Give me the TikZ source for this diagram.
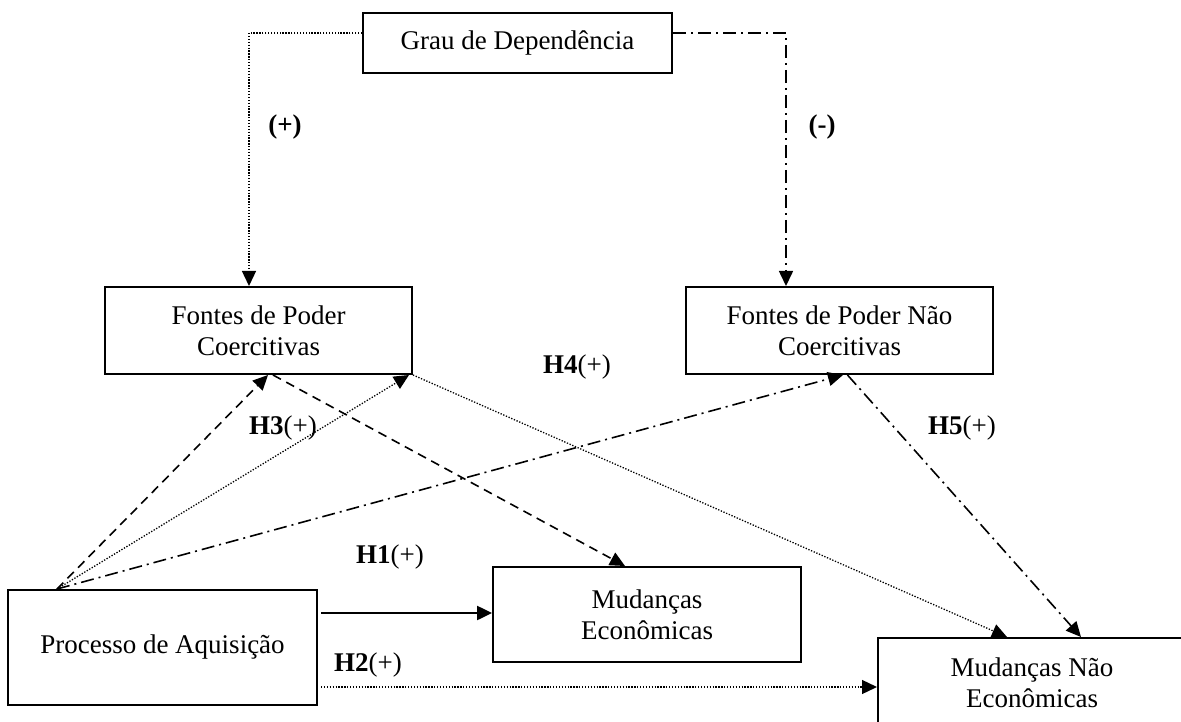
\documentclass[tikz,border=0pt]{standalone}
\usepackage{fontspec}
\setmainfont{Liberation Serif}
\usetikzlibrary{arrows.meta}
\begin{document}
\begin{tikzpicture}[x=1pt,y=-1pt,
  box/.style={draw, line width=2pt, rectangle, align=center, inner sep=0pt, font=\fontsize{27}{31}\selectfont},
  lab/.style={inner sep=1pt, font=\fontsize{27}{31}\selectfont},
  tip/.style={-{Triangle[length=15pt,width=14pt]}},
  dotl/.style={line width=1.3pt, dash pattern=on 1.3pt off 1.6pt},
  dashl/.style={line width=1.6pt, dash pattern=on 9pt off 6pt},
  dashdotl/.style={line width=1.6pt, dash pattern=on 13pt off 5pt on 2pt off 5pt},
  solidl/.style={line width=2.5pt}]
\useasboundingbox (0,0) rectangle (1181,722);
\fill[white] (0,0) rectangle (1181,722);
\begin{scope}
\clip (0,0) rectangle (1181,722);
\node[box, minimum width=309pt, minimum height=60pt] (grau) at (517.5,43) {Grau de Dependência};
\node[box, minimum width=307pt, minimum height=87pt] (fc) at (258.5,330.5) {Fontes de Poder\\Coercitivas};
\node[box, minimum width=307pt, minimum height=87pt] (fnc) at (839.5,330.5) {Fontes de Poder Não\\Coercitivas};
\node[box, minimum width=309pt, minimum height=115pt] (proc) at (162.5,647.5) {Processo de Aquisição};
\node[box, minimum width=308pt, minimum height=95pt] (me) at (647,614.5) {Mudanças\\Econômicas};
\node[box, minimum width=308pt, minimum height=90pt] (mne) at (1032,683) {Mudanças Não\\Econômicas};

\draw[dotl, tip] ([yshift=10pt]grau.west) -| ([xshift=-9.5pt]fc.north);
\draw[dashdotl, tip] ([yshift=10pt]grau.east) -| ([xshift=-53.5pt]fnc.north);

\coordinate (src) at ([xshift=-105.5pt]proc.north);
\draw[dashl, tip] (src) -- ([xshift=9.5pt]fc.south);
\draw[dotl, tip] (src) -- ([xshift=-4pt]fc.south east);
\draw[dashdotl, tip] (src) -- ([xshift=3.5pt]fnc.south);
\draw[dashl, tip] ([xshift=14.5pt]fc.south) -- ([xshift=-22pt]me.north);
\draw[dotl, tip] (fc.south east) -- ([xshift=-25pt]mne.north);
\draw[dashdotl, tip] ([xshift=8pt]fnc.south) -- ([xshift=49pt]mne.north);
\coordinate (h1s) at ([xshift=3pt,yshift=34.5pt]proc.east);
\draw[solidl, tip] (h1s) -- (h1s -| me.west);
\coordinate (h2s) at ([xshift=3pt,yshift=-39.5pt]proc.east);
\draw[dotl, tip] (h2s) -- (h2s -| mne.west);

\node[lab] (lp) at (285,127) {\textbf{(+)}};
\node[lab] (lm) at (822,127) {\textbf{(-)}};
\node[lab] (h1) at (390,557) {\textbf{H1}(+)};
\node[lab] (h2) at (368,665) {\textbf{H2}(+)};
\node[lab] (h3) at (283,428) {\textbf{H3}(+)};
\node[lab] (h4) at (577,367) {\textbf{H4}(+)};
\node[lab] (h5) at (962,428) {\textbf{H5}(+)};
\end{scope}
\end{tikzpicture}
\end{document}
